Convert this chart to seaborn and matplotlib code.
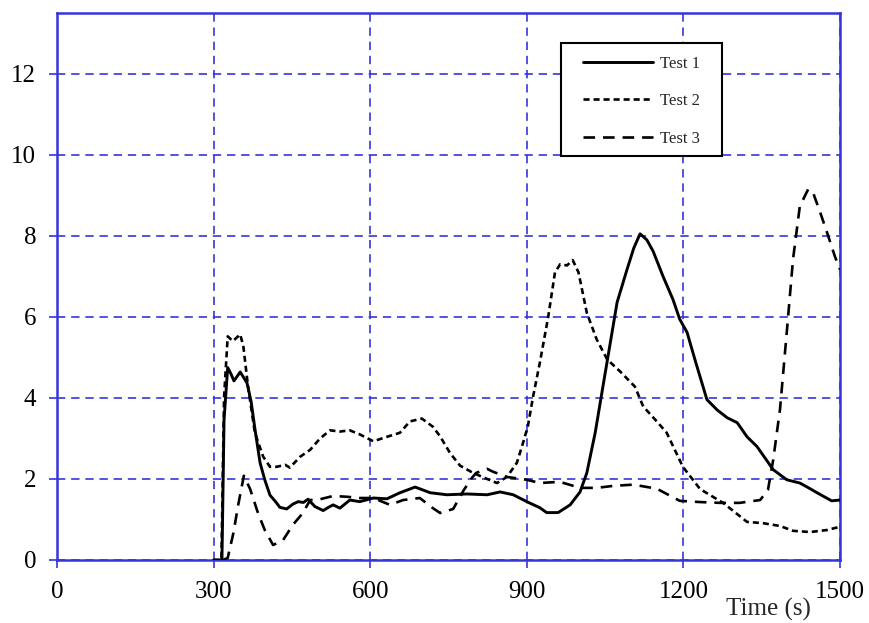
import matplotlib
matplotlib.use("Agg")
import matplotlib.pyplot as plt
from matplotlib.patches import Rectangle
import seaborn as sns
import pandas as pd

# ---- data ----
t1_x = [300, 316, 320, 327, 333, 339, 351, 364, 372, 379, 389, 398, 408, 418, 427, 440, 452, 462, 472, 481,
        494, 510, 520, 529, 542, 561, 580, 606, 632, 657, 686, 715, 747, 785, 824, 849, 874, 900, 925, 938,
        960, 983, 1002, 1015, 1031, 1050, 1073, 1092, 1105, 1117, 1130, 1142, 1161, 1180, 1193, 1207, 1222,
        1245, 1265, 1284, 1303, 1322, 1341, 1372, 1398, 1423, 1440, 1456, 1484, 1500]
t1_y = [0, 0, 3.46, 4.75, 4.6, 4.42, 4.64, 4.37, 3.9, 3.25, 2.4, 1.98, 1.6, 1.45, 1.3, 1.26, 1.38, 1.44, 1.42, 1.5,
        1.32, 1.22, 1.3, 1.36, 1.28, 1.48, 1.44, 1.53, 1.51, 1.66, 1.8, 1.66, 1.61, 1.63, 1.61, 1.68, 1.61, 1.44, 1.29, 1.17,
        1.17, 1.36, 1.68, 2.15, 3.14, 4.6, 6.36, 7.17, 7.7, 8.05, 7.9, 7.62, 7.0, 6.43, 5.94, 5.62, 4.95,
        3.96, 3.7, 3.51, 3.39, 3.04, 2.8, 2.23, 1.98, 1.9, 1.78, 1.66, 1.46, 1.48]

t2_x = [300, 315, 320, 327, 337, 351, 357, 366, 379, 395, 408, 421, 437, 446, 466, 485, 504, 523, 542, 561,
        580, 606, 632, 657, 676, 699, 720, 734, 753, 772, 797, 824, 843, 862, 881, 893, 902, 912, 925, 941,
        954, 964, 977, 988, 999, 1015, 1034, 1054, 1079, 1107, 1123, 1149, 1168, 1199, 1232, 1276, 1322,
        1352, 1385, 1410, 1443, 1475, 1500]
t2_y = [0, 0, 4.0, 5.52, 5.4, 5.57, 5.27, 4.28, 3.14, 2.55, 2.3, 2.3, 2.35, 2.28, 2.55, 2.72, 3.0, 3.2, 3.17, 3.2,
        3.1, 2.93, 3.04, 3.14, 3.42, 3.49, 3.29, 3.05, 2.64, 2.33, 2.15, 2.0, 1.9, 2.05, 2.4, 2.9, 3.3, 4.03, 4.87, 6.0,
        7.1, 7.3, 7.27, 7.4, 7.1, 6.1, 5.44, 4.95, 4.65, 4.28, 3.79, 3.42, 3.14, 2.3, 1.75, 1.41, 0.94,
        0.91, 0.84, 0.72, 0.69, 0.74, 0.82]

t3_x = [318, 327, 338, 347, 358, 370, 385, 398, 414, 433, 452, 471, 485, 504, 529, 556, 580, 606, 638, 663,
        695, 720, 734, 759, 778, 795, 803, 824, 835, 862, 900, 925, 963, 1002, 1034, 1066, 1104, 1149, 1193,
        1232, 1270, 1308, 1347, 1362, 1372, 1385, 1398, 1410, 1423, 1439, 1448, 1462, 1475, 1490, 1500]
t3_y = [0, 0.05, 0.67, 1.35, 2.08, 1.75, 1.16, 0.74, 0.37, 0.49, 0.87, 1.16, 1.48, 1.5, 1.58, 1.56, 1.53, 1.53, 1.36, 1.48,
        1.53, 1.28, 1.16, 1.26, 1.7, 2.03, 2.15, 2.25, 2.18, 2.05, 1.98, 1.9, 1.93, 1.78, 1.78, 1.83, 1.86, 1.76, 1.46,
        1.43, 1.41, 1.41, 1.48, 1.73, 2.47, 3.71, 5.62, 7.42, 8.73, 9.15, 9.08, 8.58, 8.09, 7.5, 7.17]

series_names = ["Test 1", "Test 2", "Test 3"]
x_ticks = [0, 300, 600, 900, 1200, 1500]
y_ticks = [0, 2, 4, 6, 8, 10, 12]
x_label = "Time (s)"

# ---- style ----
sns.set_style("white")
plt.rcParams["font.family"] = ["Liberation Serif", "DejaVu Serif"]
BLUE = "#3535dc"

fig = plt.figure(figsize=(8.69, 6.23), dpi=100)
ax = fig.add_axes([57 / 869, 63 / 623, 783 / 869, 547 / 623])

styles = [
    dict(linestyle="-", linewidth=2.1),
    dict(linestyle=(0, (2.3, 1.5)), linewidth=1.9),
    dict(linestyle=(0, (4.4, 3.0)), linewidth=1.9),
]
for name, xs, ys, st in zip(series_names, [t1_x, t2_x, t3_x], [t1_y, t2_y, t3_y], styles):
    df = pd.DataFrame({"x": xs, "y": ys})
    sns.lineplot(data=df, x="x", y="y", ax=ax, color="black", label=name,
                 estimator=None, sort=False, zorder=3, **st)

ax.set_xlim(0, 1500)
ax.set_ylim(0, 13.5)
ax.set_xticks(x_ticks)
ax.set_yticks(y_ticks)
ax.set_xticklabels([str(v) for v in x_ticks])
ax.set_yticklabels([str(v) for v in y_ticks])
ax.grid(True, color=BLUE, linestyle=(0, (5, 3.5)), linewidth=1.2, zorder=1)
for sp in ax.spines.values():
    sp.set_color(BLUE)
    sp.set_linewidth(1.8)
    sp.set_visible(True)
ax.tick_params(axis="both", which="major", direction="out", length=6, width=1.2,
               color=BLUE, labelsize=18, labelcolor="black", pad=9,
               bottom=True, left=True)
ax.set_ylabel("")
ax.set_xlabel(x_label, fontsize=18)
ax.xaxis.set_label_coords(0.908, -0.070)

# legend frame (drawn as a box) and legend entries
ax.add_patch(Rectangle((0.6437, 0.7386), 0.8493 - 0.6437, 0.9452 - 0.7386,
                       transform=ax.transAxes, facecolor="white", edgecolor="black",
                       linewidth=1.5, zorder=4))
leg = ax.legend(loc="upper left", bbox_to_anchor=(0.6718, 0.922), frameon=False,
                fontsize=12, handlelength=4.2, handletextpad=0.4, labelspacing=1.29,
                borderpad=0, borderaxespad=0)
leg.set_zorder(5)

fig.savefig("out.png", dpi=100)
